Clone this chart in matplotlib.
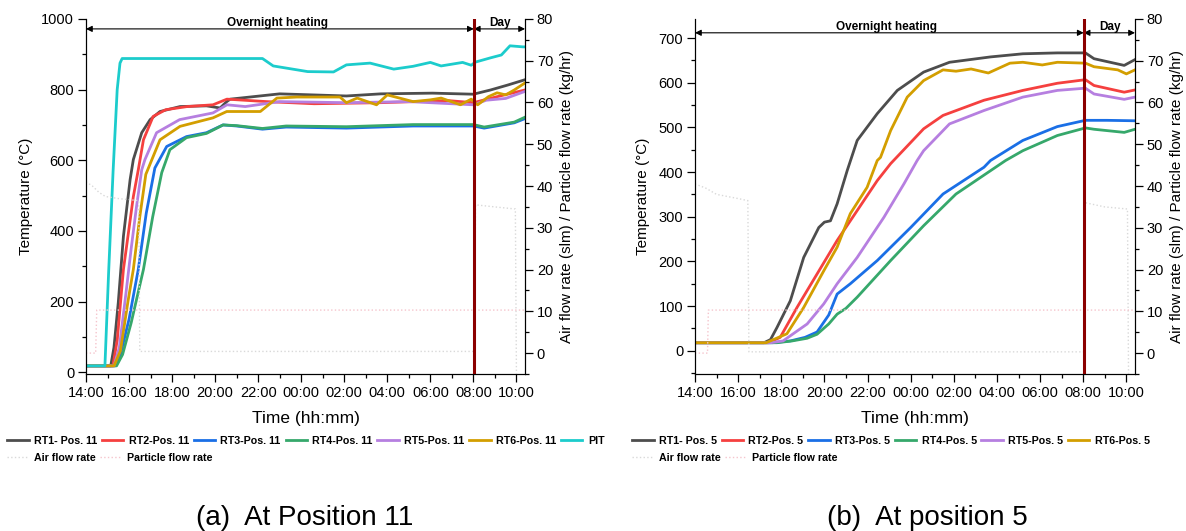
import matplotlib
matplotlib.use("Agg")
from matplotlib import pyplot as plt
from matplotlib.ticker import MultipleLocator

plt.rcParams['font.family'] = ['Liberation Sans', 'DejaVu Sans']

#*********************************************************************************************#
# time axis: hours after 14:00
time_ticks = [0, 2, 4, 6, 8, 10, 12, 14, 16, 18, 20]
time_labels = ['14:00', '16:00', '18:00', '20:00', '22:00', '00:00',
               '02:00', '04:00', '06:00', '08:00', '10:00']
day_start = 18.02

#*********************************************************************************************#
# Position 11 (temperatures in degC)
rt1_11_h = [0, 1.15, 1.3, 1.5, 1.74, 2.05, 2.2, 2.59, 2.98, 3.44, 4.37, 5.6, 6.23, 6.54, 6.7, 9.0, 12.1, 13.7, 16.1, 18.0, 18.8, 19.6, 20.4]
rt1_11_T = [18, 18, 70, 197, 385, 545, 602, 678, 715, 738, 752, 754, 748, 766, 773, 788, 782, 788, 790, 787, 799, 813, 828]
rt2_11_h = [0, 1.25, 1.45, 1.74, 2.2, 2.43, 2.67, 3.12, 3.7, 4.7, 5.9, 6.55, 8.4, 10.6, 13.7, 16.8, 18.0, 19.1, 20.4]
rt2_11_T = [18, 18, 90, 291, 497, 573, 658, 724, 743, 752, 757, 773, 766, 760, 763, 769, 763, 780, 799]
rt3_11_h = [0, 1.35, 1.6, 2.0, 2.43, 2.8, 3.2, 3.75, 4.67, 5.6, 6.37, 7.0, 8.2, 9.3, 12.1, 15.2, 18.0, 18.5, 19.9, 20.4]
rt3_11_T = [18, 18, 50, 150, 291, 450, 578, 639, 667, 678, 700, 697, 688, 694, 691, 697, 697, 691, 706, 718]
rt4_11_h = [0, 1.42, 1.7, 2.1, 2.67, 3.1, 3.52, 3.9, 4.67, 5.6, 6.37, 7.0, 8.2, 9.3, 12.1, 15.2, 18.0, 18.5, 19.9, 20.4]
rt4_11_T = [18, 18, 50, 140, 291, 440, 565, 630, 664, 676, 700, 698, 690, 697, 695, 701, 701, 694, 708, 722]
rt5_11_h = [0, 1.3, 1.55, 1.85, 2.1, 2.35, 2.59, 2.74, 3.28, 4.35, 5.9, 6.55, 7.4, 9.0, 12.1, 15.0, 18.0, 18.6, 19.5, 20.4]
rt5_11_T = [18, 18, 70, 220, 350, 470, 573, 602, 678, 715, 734, 757, 752, 766, 763, 766, 757, 770, 775, 795]
rt6_11_h = [0, 1.3, 1.6, 1.95, 2.2, 2.5, 2.78, 3.44, 4.37, 5.9, 6.54, 8.1, 8.87, 9.8, 11.8, 12.1, 12.6, 13.5, 14.0, 15.2, 16.0, 16.5, 17.4, 17.9, 18.2, 18.7, 19.1, 19.5, 19.9, 20.4]
rt6_11_T = [18, 18, 60, 200, 291, 440, 560, 658, 696, 720, 738, 738, 776, 779, 779, 763, 776, 757, 785, 766, 771, 776, 757, 773, 757, 780, 791, 785, 799, 819]
pit_11_h = [0, 0.88, 1.05, 1.26, 1.45, 1.58, 1.68, 8.2, 8.7, 10.3, 11.5, 12.1, 13.2, 14.3, 15.2, 16.0, 16.5, 17.5, 17.9, 18.1, 18.8, 19.3, 19.7, 20.3, 20.4]
pit_11_T = [18, 18, 280, 570, 800, 875, 888, 888, 867, 851, 850, 870, 875, 858, 866, 877, 867, 877, 869, 878, 890, 898, 924, 921, 921]
# flows (slm / kg/hr)
air_11_h = [0, 0.3, 0.6, 0.9, 1.5, 2.45, 2.5, 18.05, 18.1, 19.0, 19.95, 20.0]
air_11_v = [41, 40, 38.5, 37.5, 37, 36.5, 0.4, 0.4, 35.5, 35, 34.5, -5]
part_11_h = [0, 0.45, 0.5, 20.4]
part_11_v = [0, 0, 10.3, 10.3]

#*********************************************************************************************#
# Position 5
rt1_5_h = [0, 3.2, 3.5, 3.8, 4.42, 5.04, 5.74, 6.0, 6.28, 6.59, 7.06, 7.52, 8.45, 9.38, 10.6, 11.8, 13.7, 15.2, 16.8, 18.1, 18.5, 19.9, 20.4]
rt1_5_T = [18, 18, 25, 52, 112, 209, 276, 288, 291, 329, 404, 471, 531, 583, 624, 646, 658, 665, 667, 667, 654, 639, 652]
rt2_5_h = [0, 3.4, 3.95, 4.73, 5.66, 6.59, 7.52, 8.45, 9.07, 10.6, 11.5, 13.4, 15.2, 16.8, 18.1, 18.5, 19.9, 20.4]
rt2_5_T = [18, 18, 30, 97, 172, 247, 314, 381, 419, 497, 527, 561, 583, 599, 607, 594, 579, 584]
rt3_5_h = [0, 3.6, 4.42, 5.1, 5.66, 6.2, 6.59, 7.2, 8.45, 10.0, 11.5, 13.4, 13.7, 15.2, 16.8, 18.1, 19.1, 20.4]
rt3_5_T = [18, 18, 22, 30, 42, 80, 127, 150, 202, 276, 351, 411, 426, 471, 502, 516, 516, 515]
rt4_5_h = [0, 3.8, 4.5, 5.2, 5.66, 6.2, 6.59, 7.0, 7.52, 9.07, 10.6, 12.1, 14.4, 15.2, 16.8, 18.1, 18.5, 19.9, 20.4]
rt4_5_T = [18, 18, 22, 28, 37, 60, 82, 95, 120, 202, 280, 351, 426, 448, 482, 499, 496, 489, 496]
rt5_5_h = [0, 3.5, 4.08, 5.2, 5.97, 6.59, 7.52, 8.76, 9.69, 10.3, 10.6, 11.8, 13.4, 15.2, 16.8, 18.1, 18.5, 19.9, 20.4]
rt5_5_T = [18, 18, 22, 60, 105, 150, 209, 299, 374, 426, 448, 508, 538, 568, 583, 588, 575, 563, 568]
rt6_5_h = [0, 3.3, 4.26, 5.04, 5.97, 6.59, 7.2, 7.98, 8.45, 8.6, 9.07, 9.84, 10.6, 11.5, 12.1, 12.8, 13.6, 14.6, 15.2, 16.1, 16.8, 18.1, 18.5, 19.6, 20.0, 20.4]
rt6_5_T = [18, 18, 38, 97, 179, 232, 307, 366, 426, 433, 493, 568, 605, 629, 626, 631, 622, 644, 646, 640, 646, 644, 636, 629, 620, 629]
air_5_h = [0, 0.5, 1.0, 2.0, 2.45, 2.5, 18.05, 18.1, 19.0, 20.05, 20.1]
air_5_v = [40.5, 39.5, 38, 37, 36.5, 0.3, 0.3, 36, 35, 34.5, -5]
part_5_h = [0, 0.58, 0.62, 20.4]
part_5_v = [0, 0, 10.3, 10.3]

#*********************************************************************************************#
colors = {'RT1': '#4d4d4d', 'RT2': '#f5403f', 'RT3': '#1a6fe6', 'RT4': '#36a86b',
          'RT5': '#b67fe0', 'RT6': '#d39e00', 'PIT': '#1ccccc'}
air_color = '#d9d9d9'
part_color = '#f5c4cc'

fig = plt.figure(figsize=(11.86, 5.31), dpi=100)


def setup_panel(rect, ylim, major, minor):
    ax = fig.add_axes(rect)
    ax2 = ax.twinx()
    for a in (ax, ax2):
        a.spines['top'].set_visible(False)
        a.tick_params(direction='out', length=5.5, width=0.9, labelsize=10.5, pad=3)
        a.tick_params(which='minor', direction='out', length=3, width=0.9)
    ax.set_xlim(0, 20.4)
    ax.set_ylim(*ylim)
    ax.yaxis.set_major_locator(MultipleLocator(major))
    ax.yaxis.set_minor_locator(MultipleLocator(minor))
    ax.set_xticks(time_ticks)
    ax.set_xticklabels(time_labels)
    ax.xaxis.set_minor_locator(MultipleLocator(1))
    ax2.set_ylim(-5, 80)
    ax2.yaxis.set_major_locator(MultipleLocator(10))
    ax2.yaxis.set_minor_locator(MultipleLocator(5))
    ax.set_xlabel('Time (hh:mm)', fontsize=12.5, labelpad=8)
    ax.set_ylabel('Temperature (°C)', fontsize=11, labelpad=6)
    ax2.set_ylabel('Air flow rate (slm) / Particle flow rate (kg/hr)', fontsize=11, labelpad=5)
    return ax, ax2


def annotate_periods(ax, arrow_y, text_y):
    tr = ax.get_xaxis_transform()
    ax.axvline(day_start, color='#8b0000', lw=2.2, zorder=5)
    for x0, x1 in ((0, day_start), (day_start, 20.4)):
        ax.annotate('', xy=(x0, arrow_y), xytext=(x1, arrow_y), xycoords=tr, textcoords=tr,
                    arrowprops=dict(arrowstyle='<|-|>', color='black', lw=0.8, mutation_scale=9,
                                    shrinkA=0, shrinkB=0))
    ax.text(8.9, text_y, 'Overnight heating', transform=tr, ha='center', va='center',
            fontsize=8.5, fontweight='bold')
    ax.text(19.25, text_y, 'Day', transform=tr, ha='center', va='center',
            fontsize=8.5, fontweight='bold')


#### Panel (a)
axa, axa2 = setup_panel([0.0725, 0.2957, 0.3702, 0.6686], (-5, 1000), 200, 100)
la_air, = axa2.plot(air_11_h, air_11_v, ls=':', lw=1, color=air_color, label='Air flow rate')
la_part, = axa2.plot(part_11_h, part_11_v, ls=':', lw=1, color=part_color, label='Particle flow rate')
series_11 = [('RT1- Pos. 11', rt1_11_h, rt1_11_T, 'RT1'), ('RT2-Pos. 11', rt2_11_h, rt2_11_T, 'RT2'),
             ('RT3-Pos. 11', rt3_11_h, rt3_11_T, 'RT3'), ('RT4-Pos. 11', rt4_11_h, rt4_11_T, 'RT4'),
             ('RT5-Pos. 11', rt5_11_h, rt5_11_T, 'RT5'), ('RT6-Pos. 11', rt6_11_h, rt6_11_T, 'RT6'),
             ('PIT', pit_11_h, pit_11_T, 'PIT')]
ha = []
for name, h, T, key in series_11:
    l, = axa.plot(h, T, color=colors[key], lw=2, label=name)
    ha.append(l)
annotate_periods(axa2, 0.972, 0.99)

#### Panel (b)
axb, axb2 = setup_panel([0.586, 0.2957, 0.371, 0.6686], (-52, 743), 100, 50)
lb_air, = axb2.plot(air_5_h, air_5_v, ls=':', lw=1, color=air_color, label='Air flow rate')
lb_part, = axb2.plot(part_5_h, part_5_v, ls=':', lw=1, color=part_color, label='Particle flow rate')
series_5 = [('RT1- Pos. 5', rt1_5_h, rt1_5_T, 'RT1'), ('RT2-Pos. 5', rt2_5_h, rt2_5_T, 'RT2'),
            ('RT3-Pos. 5', rt3_5_h, rt3_5_T, 'RT3'), ('RT4-Pos. 5', rt4_5_h, rt4_5_T, 'RT4'),
            ('RT5-Pos. 5', rt5_5_h, rt5_5_T, 'RT5'), ('RT6-Pos. 5', rt6_5_h, rt6_5_T, 'RT6')]
hb = []
for name, h, T, key in series_5:
    l, = axb.plot(h, T, color=colors[key], lw=2, label=name)
    hb.append(l)
annotate_periods(axb2, 0.961, 0.977)

#*********************************************************************************************#
# legends: one row of temperatures, one row of flows
leg_kw = dict(frameon=False, prop={'size': 7.7, 'weight': 'bold'}, handlelength=2.0,
              handletextpad=0.5, columnspacing=0.45, borderpad=0,
              borderaxespad=0, loc='upper left')
fig.legend(handles=ha, ncol=7, bbox_to_anchor=(0.006, 0.1785), **leg_kw)
fig.legend(handles=[la_air, la_part], ncol=2, bbox_to_anchor=(0.006, 0.1465), **leg_kw)
fig.legend(handles=hb, ncol=6, bbox_to_anchor=(0.533, 0.1785), **leg_kw)
fig.legend(handles=[lb_air, lb_part], ncol=2, bbox_to_anchor=(0.533, 0.1465), **leg_kw)

fig.text(0.257, 0.025, '(a)  At Position 11', ha='center', va='center', fontsize=20)
fig.text(0.782, 0.025, '(b)  At position 5', ha='center', va='center', fontsize=20)

plt.savefig('out.png', dpi=100)
